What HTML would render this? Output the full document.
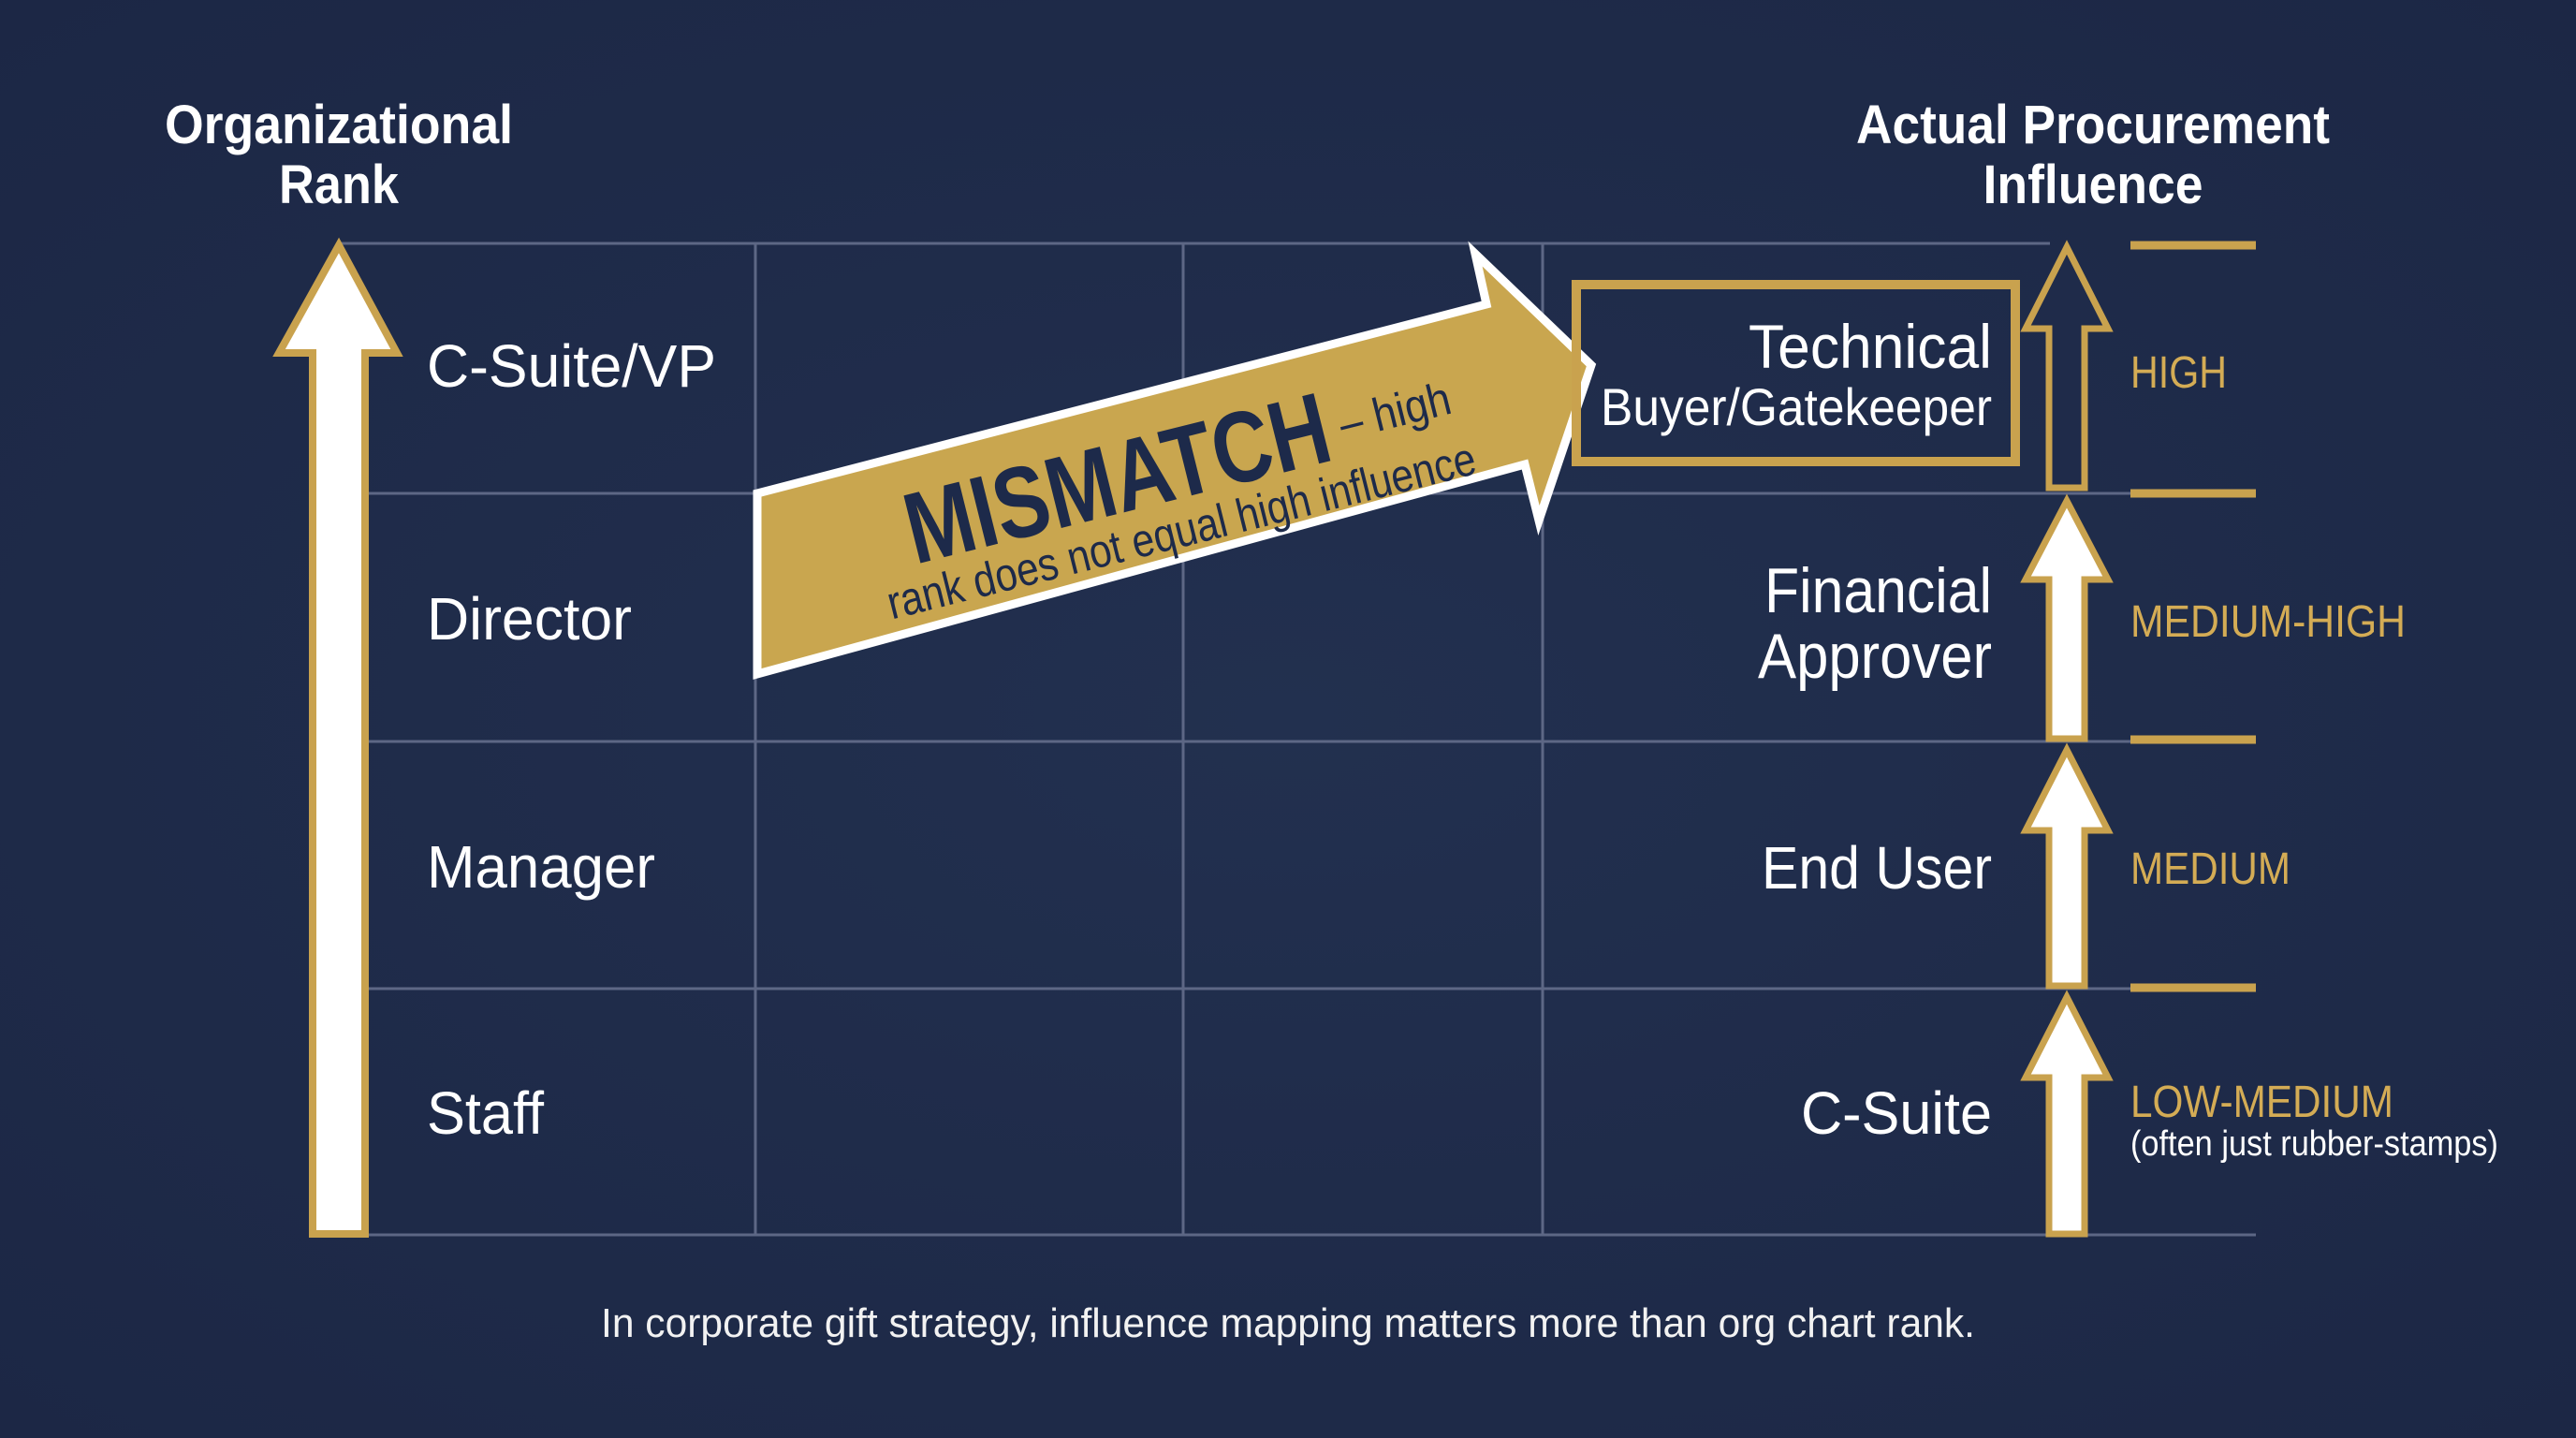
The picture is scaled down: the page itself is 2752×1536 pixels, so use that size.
<!DOCTYPE html>
<html><head><meta charset="utf-8"><style>
html,body{margin:0;padding:0;background:#1f2b4a;}
svg{display:block;}
text{font-family:"Liberation Sans",sans-serif;}
</style></head><body>
<svg width="2752" height="1536" viewBox="0 0 2752 1536" xmlns="http://www.w3.org/2000/svg">
<defs>
<radialGradient id="bg" cx="50%" cy="50%" r="70%">
<stop offset="0" stop-color="#22304f"/><stop offset="1" stop-color="#1c2745"/>
</radialGradient>
</defs>
<rect width="2752" height="1536" fill="url(#bg)"/>

<g stroke="#5d6785" stroke-width="3" fill="none">
<line x1="362" y1="260" x2="2190" y2="260"/>
<line x1="390" y1="527" x2="2410" y2="527"/>
<line x1="390" y1="792" x2="2410" y2="792"/>
<line x1="390" y1="1056" x2="2410" y2="1056"/>
<line x1="340" y1="1319" x2="2410" y2="1319"/>
<line x1="807" y1="260" x2="807" y2="1319"/>
<line x1="1264" y1="260" x2="1264" y2="1319"/>
<line x1="1648" y1="260" x2="1648" y2="1319"/>
</g>

<g fill="#ffffff" font-weight="bold" font-size="58" text-anchor="middle">
<text x="362" y="153" textLength="372" lengthAdjust="spacingAndGlyphs">Organizational</text>
<text x="362" y="217" textLength="128" lengthAdjust="spacingAndGlyphs">Rank</text>
<text x="2236" y="153" textLength="506" lengthAdjust="spacingAndGlyphs">Actual Procurement</text>
<text x="2236" y="217" textLength="235" lengthAdjust="spacingAndGlyphs">Influence</text>
</g>

<polygon points="362,262 424,377 390,377 390,1318 334,1318 334,377 298,377" fill="#ffffff" stroke="#c9a24e" stroke-width="8" stroke-linejoin="miter"/>

<g fill="#ffffff" font-size="64">
<text x="456" y="413" textLength="309" lengthAdjust="spacingAndGlyphs">C-Suite/VP</text>
<text x="456" y="683" textLength="219" lengthAdjust="spacingAndGlyphs">Director</text>
<text x="456" y="948" textLength="244" lengthAdjust="spacingAndGlyphs">Manager</text>
<text x="456" y="1211" textLength="125" lengthAdjust="spacingAndGlyphs">Staff</text>
</g>

<polygon points="809,527 1588,325 1576,271 1700,390 1644,556 1629,496 809,720" fill="#c9a64f" stroke="#ffffff" stroke-width="9" stroke-linejoin="miter"/>
<g fill="#1d2a4a">
<text x="1193" y="548" font-size="108" font-weight="bold" text-anchor="middle" transform="rotate(-14 1193 509)" textLength="463" lengthAdjust="spacingAndGlyphs">MISMATCH</text>
<text x="1490" y="456" font-size="50" text-anchor="middle" transform="rotate(-14 1490 439)" textLength="121" lengthAdjust="spacingAndGlyphs">– high</text>
<text x="1262" y="584" font-size="50" text-anchor="middle" transform="rotate(-14 1262 567)" textLength="646" lengthAdjust="spacingAndGlyphs">rank does not equal high influence</text>
</g>

<rect x="1684" y="304" width="469" height="189" fill="none" stroke="#c9a24e" stroke-width="10"/>

<g fill="#ffffff" text-anchor="end">
<text x="2128" y="393" font-size="66" textLength="260" lengthAdjust="spacingAndGlyphs">Technical</text>
<text x="2128" y="454" font-size="56" textLength="418" lengthAdjust="spacingAndGlyphs">Buyer/Gatekeeper</text>
<text x="2128" y="654" font-size="68" textLength="243" lengthAdjust="spacingAndGlyphs">Financial</text>
<text x="2128" y="724" font-size="68" textLength="250" lengthAdjust="spacingAndGlyphs">Approver</text>
<text x="2128" y="949" font-size="64" textLength="246" lengthAdjust="spacingAndGlyphs">End User</text>
<text x="2128" y="1211" font-size="64" textLength="204" lengthAdjust="spacingAndGlyphs">C-Suite</text>
</g>

<g stroke="#c9a24e" stroke-width="7" stroke-linejoin="miter">
<polygon points="2208,264 2252,351 2227,351 2227,521 2189,521 2189,351 2164,351" fill="#1f2b4a"/>
<polygon points="2208,535 2252,619 2227,619 2227,789 2189,789 2189,619 2164,619" fill="#ffffff"/>
<polygon points="2208,801 2252,887 2227,887 2227,1053 2189,1053 2189,887 2164,887" fill="#ffffff"/>
<polygon points="2208,1065 2252,1151 2227,1151 2227,1318 2189,1318 2189,1151 2164,1151" fill="#ffffff"/>
</g>

<g stroke="#c9a24e" stroke-width="9">
<line x1="2276" y1="262" x2="2410" y2="262"/>
<line x1="2276" y1="527" x2="2410" y2="527"/>
<line x1="2276" y1="790" x2="2410" y2="790"/>
<line x1="2276" y1="1055" x2="2410" y2="1055"/>
</g>

<g fill="#d4ac55" font-size="48">
<text x="2276" y="414" textLength="103" lengthAdjust="spacingAndGlyphs">HIGH</text>
<text x="2276" y="680" textLength="294" lengthAdjust="spacingAndGlyphs">MEDIUM-HIGH</text>
<text x="2276" y="944" textLength="171" lengthAdjust="spacingAndGlyphs">MEDIUM</text>
<text x="2276" y="1193" textLength="281" lengthAdjust="spacingAndGlyphs">LOW-MEDIUM</text>
</g>
<text x="2276" y="1234" fill="#ffffff" font-size="38" textLength="393" lengthAdjust="spacingAndGlyphs">(often just rubber-stamps)</text>

<text x="1376" y="1428" fill="#f2f2f2" font-size="44" text-anchor="middle" textLength="1468" lengthAdjust="spacingAndGlyphs">In corporate gift strategy, influence mapping matters more than org chart rank.</text>
</svg>
</body></html>
